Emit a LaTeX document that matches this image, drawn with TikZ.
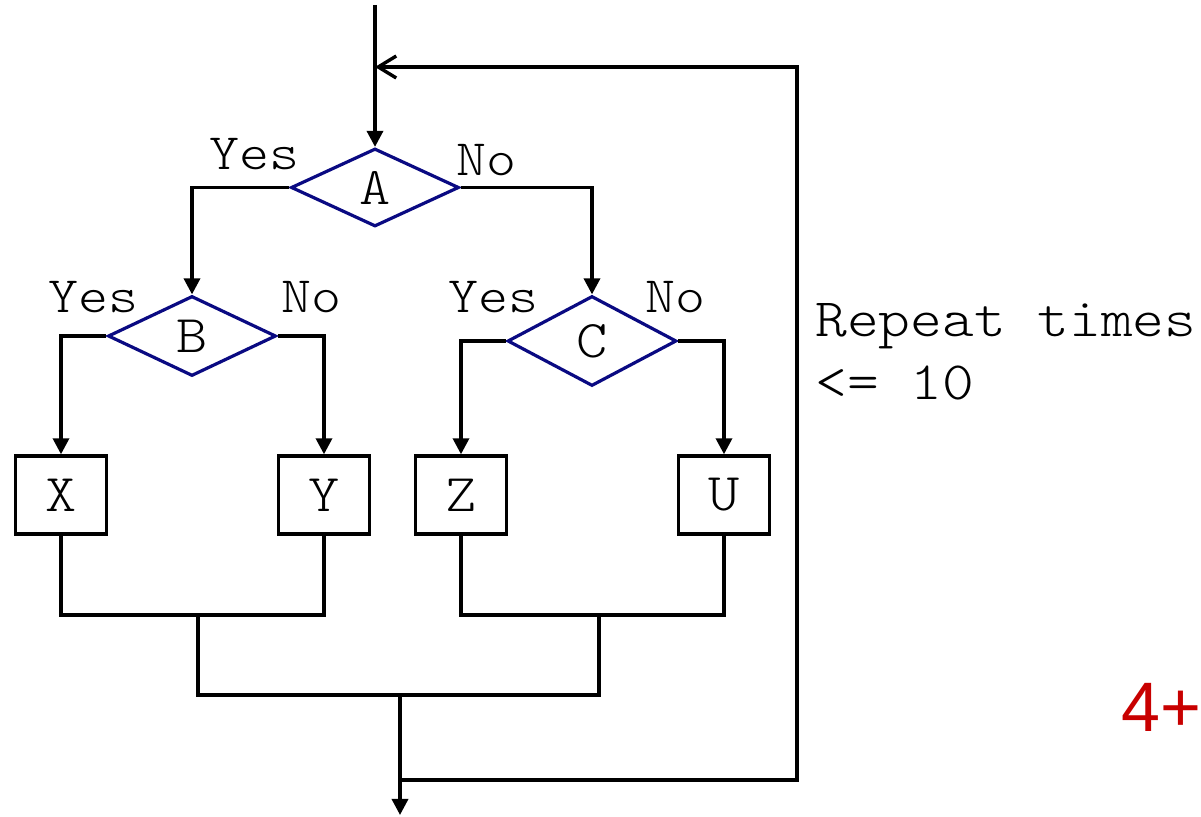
\documentclass[tikz,border=0pt]{standalone}
\usepackage{fontspec}
\usepackage{tikz}
\usetikzlibrary{arrows.meta,positioning,shapes.geometric}
\usepackage{xcolor}
\newfontfamily\codefont[FakeStretch=1.12]{lmmonolt10-regular.otf}
\newfontfamily\markfont{Liberation Sans}
\definecolor{decblue}{RGB}{10,10,130}
\definecolor{markred}{RGB}{200,0,0}

\begin{document}
\begin{tikzpicture}[
  x=0.5pt,y=-0.5pt,
  decision/.style={diamond,draw=decblue,line width=1.6pt,inner sep=0pt,
              font=\codefont\fontsize{26.5}{30}\selectfont},
  block/.style={rectangle,draw=black,line width=1.7pt,inner sep=0pt,
              minimum width=45.5pt,minimum height=39pt,
              font=\codefont\fontsize{26.5}{30}\selectfont},
  lbl/.style={font=\codefont\fontsize{25.5}{28}\selectfont,inner sep=0pt,anchor=base west},
  wire/.style={line width=1.7pt,black},
  arr/.style={wire,-{Triangle[length=8pt,width=8pt]}},
  loopback/.style={wire,-{Straight Barb[length=9pt,width=11pt]}}
]
\useasboundingbox (0,0) rectangle (1201,817);
\node[decision,minimum width=84pt,minimum height=39pt] (A) at (375,187.5) {A};
\node[decision,minimum width=84pt,minimum height=40pt] (B) at (192,336) {B};
\node[decision,minimum width=84.5pt,minimum height=45pt] (C) at (592,341) {C};
\node[block] (X) at (61,495) {X};
\node[block] (Y) at (324,495) {Y};
\node[block] (Z) at (461,495) {Z};
\node[block] (U) at (724,495) {U};
\node[lbl] (ayes) at (209,170) {Yes};
\node[lbl] (ano) at (456,176) {No};
\node[lbl] (byes) at (48,313) {Yes};
\node[lbl] (bno) at (281,313) {No};
\node[lbl] (cyes) at (448,313) {Yes};
\node[lbl] (cno) at (645,313) {No};
\node[lbl,font=\codefont\fontsize{27}{31.5}\selectfont,align=left] (rep) at (815,400) {Repeat times\\<= 10};
\node[inner sep=0pt,anchor=base west,font=\markfont\fontsize{35}{40}\selectfont,text=markred] (grade) at (1121,732) {4+};
\coordinate (start) at (375,5);
\coordinate (entry) at (375,67);
\coordinate (loopc) at (797,67);
\coordinate (lbar) at (198,615);
\coordinate (rbar) at (599,615);
\coordinate (jn) at (400,695);
\coordinate (back) at (400,780);
\coordinate (exit) at (400,815);
\draw[arr] (start) -- (A.north);
\draw[arr] (A.west) -| (B.north);
\draw[arr] (A.east) -| (C.north);
\draw[arr] (B.west) -| (X.north);
\draw[arr] (B.east) -| (Y.north);
\draw[arr] (C.west) -| (Z.north);
\draw[arr] (C.east) -| (U.north);
\draw[wire] (X.south) |- (lbar) -| (Y.south);
\draw[wire] (Z.south) |- (rbar) -| (U.south);
\draw[wire] (lbar) |- (jn) -| (rbar);
\draw[arr] (jn) -- (exit);
\draw[loopback] (back) -| (loopc) -- (entry);
\end{tikzpicture}
\end{document}
